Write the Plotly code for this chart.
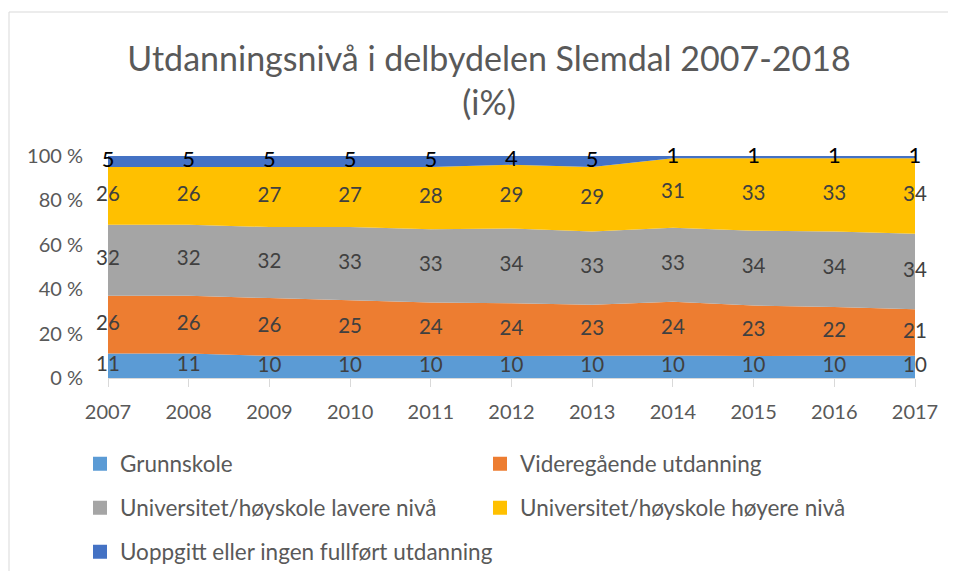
import plotly.graph_objects as go
import numpy as np

years = [2007, 2008, 2009, 2010, 2011, 2012, 2013, 2014, 2015, 2016, 2017]
series_names = [
    "Grunnskole",
    "Videregående utdanning",
    "Universitet/høyskole lavere nivå",
    "Universitet/høyskole høyere nivå",
    "Uoppgitt eller ingen fullført utdanning",
]
grunnskole = [11, 11, 10, 10, 10, 10, 10, 10, 10, 10, 10]
videregaende = [26, 26, 26, 25, 24, 24, 23, 24, 23, 22, 21]
uni_lavere = [32, 32, 32, 33, 33, 34, 33, 33, 34, 34, 34]
uni_hoyere = [26, 26, 27, 27, 28, 29, 29, 31, 33, 33, 34]
uoppgitt = [5, 5, 5, 5, 5, 4, 5, 1, 1, 1, 1]
series_values = [grunnskole, videregaende, uni_lavere, uni_hoyere, uoppgitt]
colors = ["#5B9BD5", "#ED7D31", "#A5A5A5", "#FFC000", "#4472C4"]
y_ticks = [0, 20, 40, 60, 80, 100]

FONT = "Lato"
OFF = 8  # page body margin
W, H = 956 - 2 * OFF, 579 - 2 * OFF
# reference page-pixel geometry of the plot area
PL, PR, PT, PB = 108, 915, 156, 378
L = PL - OFF
T = PT - OFF
R = W - (PR - OFF)
B = H - (PB - OFF)
pw, ph = W - L - R, H - T - B

def px_x(p):
    return (p - OFF - L) / pw

def px_y(p):
    return (H - B - (p - OFF)) / ph

fig = go.Figure()

arr = np.array(series_values, dtype=float)
tot = arr.sum(axis=0)
norm = arr / tot * 100
cum = np.cumsum(norm, axis=0)

for i, (name, vals) in enumerate(zip(series_names, series_values)):
    fig.add_trace(go.Scatter(
        x=years, y=vals, name=name, stackgroup="one", groupnorm="percent",
        mode="none", fillcolor=colors[i], line=dict(width=0),
        showlegend=False, hoverinfo="x+y+name",
    ))

# data labels
for i, vals in enumerate(series_values):
    mid = cum[i] - norm[i] / 2
    top = i == len(series_values) - 1
    fig.add_trace(go.Scatter(
        x=years, y=mid, mode="text", text=[str(v) for v in vals],
        textposition="middle center",
        textfont=dict(family=FONT, size=22 if top else 20.5,
                      color="#000000" if top else "#404040"),
        showlegend=False, hoverinfo="skip", cliponaxis=False,
    ))

# legend entries (square markers)
legend_ids = ["legend", "legend", "legend2", "legend2", "legend3"]
for i, name in enumerate(series_names):
    fig.add_trace(go.Scatter(
        x=[None], y=[None], mode="markers", name=name,
        marker=dict(symbol="square", size=14, color=colors[i]),
        legend=legend_ids[i], showlegend=True,
    ))

leg_common = dict(
    orientation="h", traceorder="normal",
    font=dict(family=FONT, size=22.5, color="#595959"),
    xanchor="left", yanchor="middle", bgcolor="rgba(0,0,0,0)",
    itemclick=False, itemdoubleclick=False,
)
lx = px_x(80)

border = dict(type="line", xref="paper", yref="paper", layer="below",
              line=dict(color="#D9D9D9", width=1))

fig.update_layout(
    width=W, height=H,
    margin=dict(l=L, r=R, t=T, b=B, autoexpand=False),
    paper_bgcolor="white", plot_bgcolor="white",
    title=dict(
        text="Utdanningsnivå i delbydelen Slemdal 2007-2018<br>(i%)",
        font=dict(family=FONT, size=34, color="#595959"),
        x=(489 - OFF) / W, xanchor="center", xref="container",
        y=1 - (70.5 - OFF) / H, yanchor="middle", yref="container",
    ),
    xaxis=dict(
        range=[years[0], years[-1]], tickmode="array", tickvals=years,
        ticktext=[str(y) for y in years],
        showgrid=False, zeroline=False, showline=True, linecolor="#D9D9D9",
        linewidth=1, ticks="outside", ticklen=8, tickcolor="#D9D9D9",
        tickfont=dict(family=FONT, size=20, color="#595959"),
        ticklabelstandoff=8,
    ),
    yaxis=dict(
        range=[0, 100], tickmode="array", tickvals=y_ticks,
        ticktext=[f"{v} %" for v in y_ticks],
        showgrid=True, gridcolor="#D9D9D9", zeroline=False, showline=False,
        tickfont=dict(family=FONT, size=20, color="#595959"),
        ticklabelstandoff=24,
    ),
    legend=dict(x=lx, y=px_y(464), entrywidth=355, entrywidthmode="pixels",
                **leg_common),
    legend2=dict(x=lx, y=px_y(508), entrywidth=355, entrywidthmode="pixels",
                 **leg_common),
    legend3=dict(x=lx, y=px_y(552), **leg_common),
    shapes=[
        dict(x0=px_x(9), x1=px_x(9), y0=px_y(12), y1=px_y(620), **border),
        dict(x0=px_x(9), x1=px_x(1000), y0=px_y(12), y1=px_y(12), **border),
    ],
)

fig.write_html("out.html")
